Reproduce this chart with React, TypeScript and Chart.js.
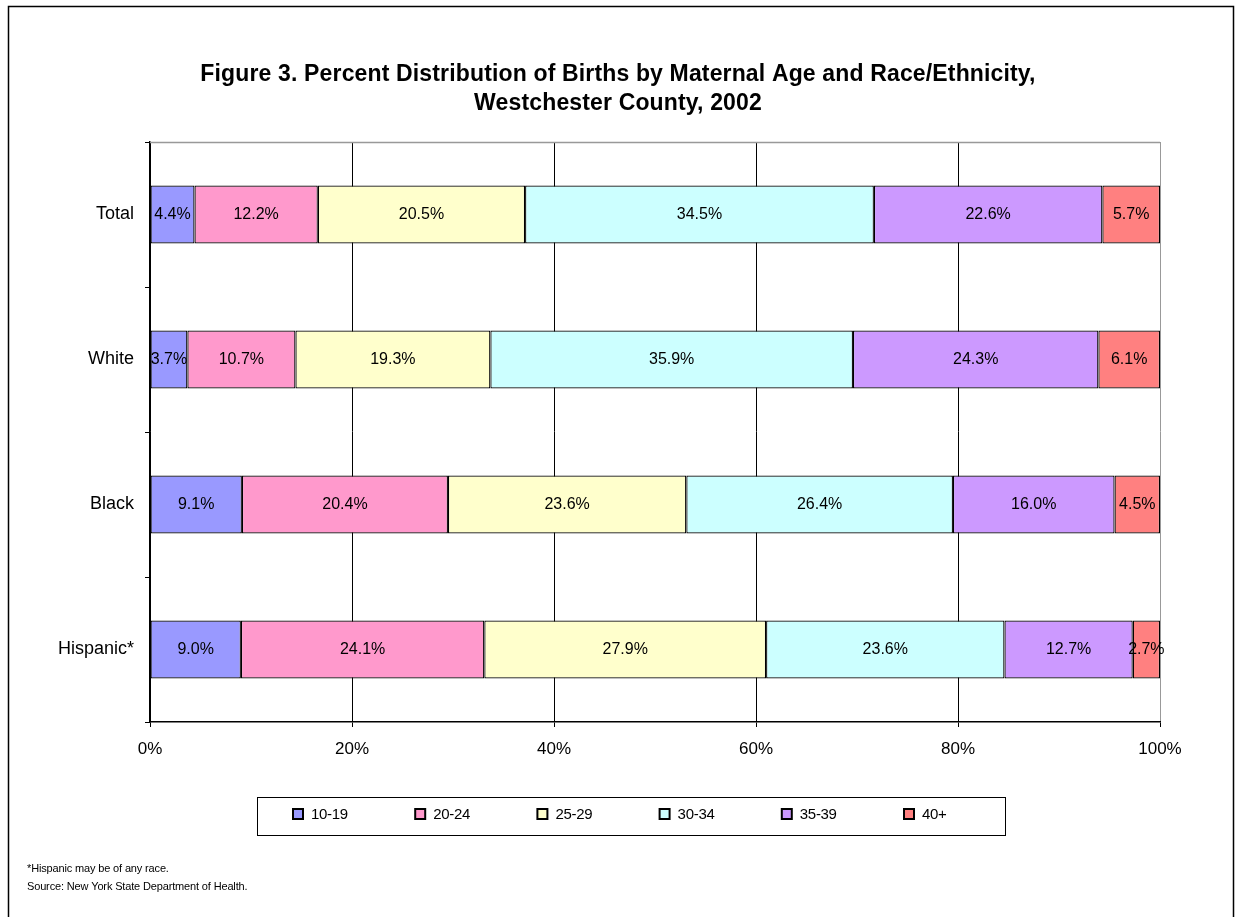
import React, { useEffect, useRef } from "react";
import { Chart, registerables } from "chart.js";

Chart.register(...registerables);

const FONT = "'Liberation Sans', Arial, sans-serif";

const categories = ["Total", "White", "Black", "Hispanic*"];
const ageGroups = ["10-19", "20-24", "25-29", "30-34", "35-39", "40+"];
const colors = ["#9999FF", "#FF99CC", "#FFFFCC", "#CCFFFF", "#CC99FF", "#FF8080"];

const age10to19 = [4.4, 3.7, 9.1, 9.0];
const age20to24 = [12.2, 10.7, 20.4, 24.1];
const age25to29 = [20.5, 19.3, 23.6, 27.9];
const age30to34 = [34.5, 35.9, 26.4, 23.6];
const age35to39 = [22.6, 24.3, 16.0, 12.7];
const age40plus = [5.7, 6.1, 4.5, 2.7];

const xTicks = [0, 20, 40, 60, 80, 100];

const titleLines = [
  "Figure 3. Percent Distribution of Births by Maternal Age and Race/Ethnicity,",
  "Westchester County, 2002",
];
const footnotes = [
  "*Hispanic may be of any race.",
  "Source: New York State Department of Health.",
];

const series = [age10to19, age20to24, age25to29, age30to34, age35to39, age40plus];

const decoPlugin = {
  id: "deco",
  afterDatasetsDraw(chart: any) {
    const ctx = chart.ctx;
    const area = chart.chartArea;
    ctx.save();
    // top border of plot area
    ctx.strokeStyle = "#999999";
    ctx.lineWidth = 1.5;
    ctx.beginPath();
    ctx.moveTo(area.left, area.top + 0.5);
    ctx.lineTo(area.right, area.top + 0.5);
    ctx.stroke();

    // data labels
    ctx.fillStyle = "#000";
    ctx.font = `16px ${FONT}`;
    ctx.textAlign = "center";
    ctx.textBaseline = "middle";
    chart.data.datasets.forEach((ds: any, di: number) => {
      const meta = chart.getDatasetMeta(di);
      meta.data.forEach((bar: any, i: number) => {
        const cx = (bar.x + bar.base) / 2;
        ctx.fillText(ds.raw[i].toFixed(1) + "%", cx, bar.y);
      });
    });
    ctx.restore();
  },
  afterDraw(chart: any) {
    const ctx = chart.ctx;
    ctx.save();
    // title
    ctx.fillStyle = "#000";
    ctx.font = `bold 23px ${FONT}`;
    (ctx as any).letterSpacing = "0.15px";
    ctx.textAlign = "center";
    ctx.textBaseline = "middle";
    ctx.fillText(titleLines[0], 618, 75);
    ctx.fillText(titleLines[1], 618, 104);
    (ctx as any).letterSpacing = "0px";

    // outer frame
    ctx.strokeStyle = "#000";
    ctx.lineWidth = 1.5;
    ctx.beginPath();
    ctx.moveTo(8.5, 940);
    ctx.lineTo(8.5, 6.5);
    ctx.lineTo(1233.5, 6.5);
    ctx.lineTo(1233.5, 940);
    ctx.stroke();

    // legend box
    ctx.lineWidth = 1;
    ctx.strokeStyle = "#000";
    ctx.strokeRect(257.5, 797.5, 748, 38);
    ctx.font = `15px ${FONT}`;
    (ctx as any).letterSpacing = "-0.3px";
    ctx.textAlign = "left";
    ctx.textBaseline = "middle";
    chart.data.datasets.forEach((ds: any, i: number) => {
      const x = 293 + i * 122.2;
      const y = 814;
      ctx.fillStyle = ds.backgroundColor;
      ctx.fillRect(x, y - 5, 10, 10);
      ctx.strokeStyle = "#000";
      ctx.lineWidth = 2;
      ctx.strokeRect(x, y - 5, 10, 10);
      ctx.fillStyle = "#000";
      ctx.fillText(ds.label, x + 18, y + 1);
    });

    // footnotes
    ctx.font = `11px ${FONT}`;
    (ctx as any).letterSpacing = "-0.15px";
    ctx.fillStyle = "#000";
    ctx.fillText(footnotes[0], 27, 869);
    ctx.fillText(footnotes[1], 27, 887);
    ctx.restore();
  },
};

export default function App() {
  const ref = useRef<HTMLCanvasElement | null>(null);
  useEffect(() => {
    document.body.style.margin = "0";
    const sums = categories.map((_, i) => series.reduce((s, arr) => s + arr[i], 0));
    const chart = new Chart(ref.current as HTMLCanvasElement, {
      type: "bar",
      data: {
        labels: categories,
        datasets: series.map((arr, k) => ({
          label: ageGroups[k],
          data: arr.map((v, i) => (v / sums[i]) * 100),
          raw: arr,
          backgroundColor: colors[k],
          borderColor: "#000",
          borderWidth: 1.25,
          borderSkipped: false,
          barPercentage: 0.4,
          categoryPercentage: 1,
        })) as any,
      },
      options: {
        indexAxis: "y",
        responsive: false,
        animation: false,
        events: [],
        layout: { padding: { top: 142, left: 0, right: 75, bottom: 155 } },
        scales: {
          x: {
            stacked: true,
            min: 0,
            max: 100,
            afterFit(scale: any) {
              scale.height = 40;
            },
            afterBuildTicks(scale: any) {
              scale.ticks = xTicks.map((v) => ({ value: v }));
            },
            ticks: {
              color: "#000",
              font: { family: FONT, size: 17 },
              padding: 12,
              callback: (v: any) => v + "%",
            },
            grid: {
              color: (c: any) => (c.tick && c.tick.value === 100 ? "#999999" : "#000"),
              tickColor: "#000",
              tickLength: 5,
              lineWidth: 1,
            },
            border: { color: "#000", width: 1.5 },
          },
          y: {
            stacked: true,
            afterFit(scale: any) {
              scale.width = 150;
            },
            ticks: {
              color: "#000",
              font: { family: FONT, size: 18 },
              padding: 11,
            },
            grid: {
              offset: true,
              drawOnChartArea: false,
              tickColor: "#000",
              tickLength: 5,
            },
            border: { color: "#000", width: 1.5 },
          },
        },
        plugins: {
          legend: { display: false },
          tooltip: { enabled: false },
          title: { display: false },
        },
      } as any,
      plugins: [decoPlugin],
    });
    return () => chart.destroy();
  }, []);
  return <canvas ref={ref} width={1235} height={917} style={{ display: "block" }} />;
}
